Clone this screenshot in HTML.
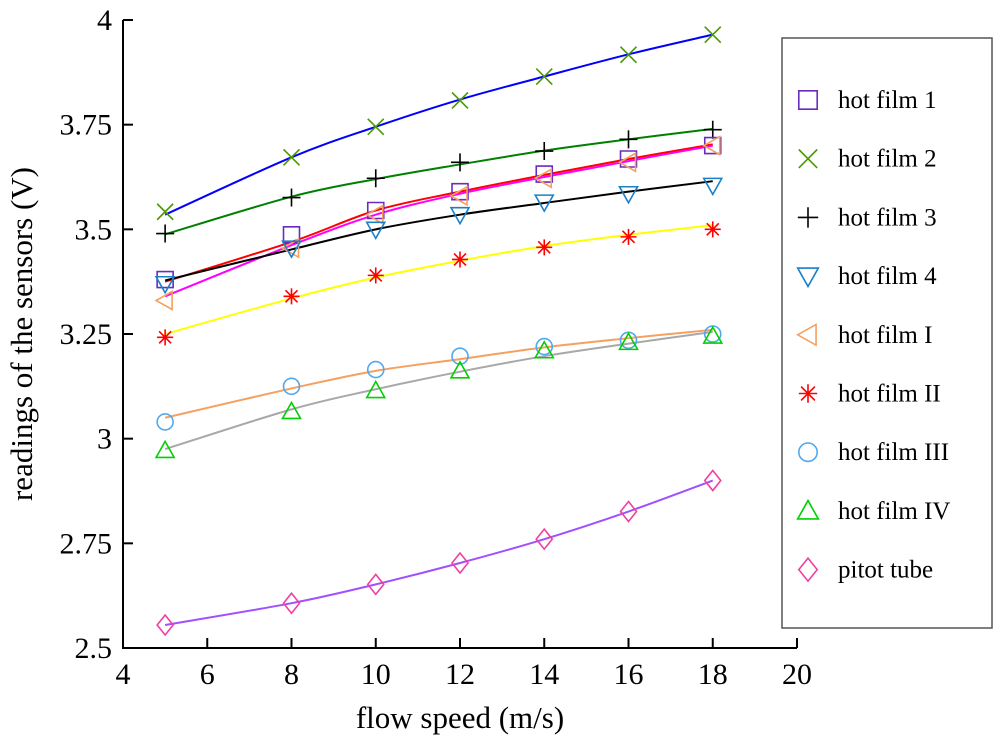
<!DOCTYPE html>
<html><head><meta charset="utf-8"><style>
body{margin:0;background:#fff}
svg text{font-family:"Liberation Serif",serif;fill:#000}
</style></head><body>
<svg id="chart" width="1000" height="742" xmlns="http://www.w3.org/2000/svg">
<g id="plot"></g>
<text x="460" y="728" font-size="31" text-anchor="middle">flow speed (m/s)</text>
<text transform="translate(32,334) rotate(-90)" font-size="31" text-anchor="middle">readings of the sensors (V)</text>
<g id="legend"></g>
</svg>
<script>
const xs = [5, 8, 10, 12, 14, 16, 18];
const xTicks = [4, 6, 8, 10, 12, 14, 16, 18, 20];
const yTicks = [2.5, 2.75, 3, 3.25, 3.5, 3.75, 4];
const yTickLabels = ["2.5", "2.75", "3", "3.25", "3.5", "3.75", "4"];
const seriesNames = ["hot film 1","hot film 2","hot film 3","hot film 4","hot film I","hot film II","hot film III","hot film IV","pitot tube"];
const hf1 = [3.38, 3.487, 3.545, 3.59, 3.632, 3.668, 3.70];
const hf2 = [3.542, 3.672, 3.745, 3.808, 3.865, 3.917, 3.965];
const hf3 = [3.49, 3.576, 3.622, 3.66, 3.687, 3.715, 3.738];
const hf4 = [3.37, 3.455, 3.50, 3.535, 3.565, 3.585, 3.605];
const hfI = [3.33, 3.455, 3.535, 3.58, 3.622, 3.66, 3.70];
const hfII = [3.242, 3.34, 3.39, 3.428, 3.457, 3.482, 3.50];
const hfIII = [3.04, 3.125, 3.165, 3.197, 3.22, 3.235, 3.25];
const hfIV = [2.972, 3.065, 3.115, 3.162, 3.21, 3.23, 3.245];
const pitot = [2.555, 2.607, 2.652, 2.703, 2.76, 2.826, 2.90];
const fit1 = [3.375, 3.47, 3.545, 3.59, 3.63, 3.668, 3.703];
const fit2 = [3.535, 3.672, 3.745, 3.81, 3.865, 3.918, 3.965];
const fit3 = [3.488, 3.578, 3.62, 3.655, 3.688, 3.715, 3.74];
const fit4 = [3.378, 3.452, 3.50, 3.535, 3.563, 3.59, 3.615];
const fitI = [3.34, 3.462, 3.535, 3.585, 3.625, 3.663, 3.70];
const fitII = [3.25, 3.335, 3.385, 3.425, 3.46, 3.487, 3.51];
const fitIII = [3.05, 3.12, 3.162, 3.19, 3.218, 3.24, 3.26];
const fitIV = [2.975, 3.07, 3.118, 3.16, 3.197, 3.227, 3.255];
const fitP = [2.555, 2.607, 2.652, 2.703, 2.76, 2.826, 2.90];

const X0=123, X1=797, Y0=648, Y1=20;
const xS = v => X0 + (v-4)/(20-4)*(X1-X0);
const yS = v => Y0 - (v-2.5)/(4-2.5)*(Y0-Y1);
const NS="http://www.w3.org/2000/svg";
const plot=document.getElementById('plot');
function mk(t,a,p){const e=document.createElementNS(NS,t);for(const k in a)e.setAttribute(k,a[k]);(p||plot).appendChild(e);return e;}

let ax=mk('path',{d:`M${X0},${Y1} V${Y0} H${X1}`,stroke:'#000','stroke-width':2,fill:'none'});


xTicks.forEach(t=>{const x=xS(t);
 const l=mk('line',{x1:x,x2:x,y1:Y0,y2:Y0-10,stroke:'#000','stroke-width':2});
 
 
 const tx=mk('text',{x:x,y:Y0+36,'font-size':30,'text-anchor':'middle'});tx.textContent=t;
 
 
});
yTicks.forEach((t,i)=>{const y=yS(t);
 const l=mk('line',{x1:X0,x2:X0+10,y1:y,y2:y,stroke:'#000','stroke-width':2});
 
 
 const tx=mk('text',{x:X0-11,y:y+10,'font-size':30,'text-anchor':'end'});tx.textContent=yTickLabels[i];
 
 
});

function curve(vals){const p=xs.map((x,i)=>[xS(x),yS(vals[i])]);let d=`M${p[0][0]},${p[0][1]}`;
 for(let i=0;i<p.length-1;i++){const a=p[i-1]||p[i],b=p[i],c=p[i+1],e=p[i+2]||c;
  d+=` C${b[0]+(c[0]-a[0])/6},${b[1]+(c[1]-a[1])/6} ${c[0]-(e[0]-b[0])/6},${c[1]-(e[1]-b[1])/6} ${c[0]},${c[1]}`;}
 return d;}
function marker(type,x,y,col,parent,k){k=k||1;let d;const s=8*k;
 switch(type){
 case 'sq':d=`M${x-s},${y-s}h${2*s}v${2*s}h${-2*s}z`;break;
 case 'x':d=`M${x-s},${y-s}L${x+s},${y+s}M${x-s},${y+s}L${x+s},${y-s}`;break;
 case 'plus':d=`M${x-s-1},${y}H${x+s+1}M${x},${y-s-1}V${y+s+1}`;break;
 case 'dn':d=`M${x-9*k},${y-7*k}H${x+9*k}L${x},${y+9*k}z`;break;
 case 'lt':d=`M${x-9*k},${y}L${x+7*k},${y-9*k}V${y+9*k}z`;break;
 case 'star':d=`M${x-s},${y}H${x+s}M${x},${y-s}V${y+s}M${x-6*k},${y-6*k}L${x+6*k},${y+6*k}M${x-6*k},${y+6*k}L${x+6*k},${y-6*k}`;break;
 case 'ci':return mk('circle',{cx:x,cy:y,r:8*k,fill:'none',stroke:col,'stroke-width':1.6},parent);
 case 'up':d=`M${x-9*k},${y+7*k}H${x+9*k}L${x},${y-9*k}z`;break;
 case 'di':d=`M${x},${y-10*k}L${x+8*k},${y}L${x},${y+10*k}L${x-8*k},${y}z`;break;}
 return mk('path',{d:d,fill:'none',stroke:col,'stroke-width':1.6},parent);}

const series=[
 {v:hf1,f:fit1,m:'sq',mc:'#6a2bc0',lc:'#ff0000'},
 {v:hf2,f:fit2,m:'x',mc:'#4a9a00',lc:'#0000ff'},
 {v:hf3,f:fit3,m:'plus',mc:'#000',lc:'#008000'},
 {v:hf4,f:fit4,m:'dn',mc:'#1a80c8',lc:'#000'},
 {v:hfI,f:fitI,m:'lt',mc:'#f5a060',lc:'#ff00ff'},
 {v:hfII,f:fitII,m:'star',mc:'#ff0000',lc:'#ffff00'},
 {v:hfIII,f:fitIII,m:'ci',mc:'#50a8f0',lc:'#f5a060'},
 {v:hfIV,f:fitIV,m:'up',mc:'#00d000',lc:'#a8a8a8'},
 {v:pitot,f:fitP,m:'di',mc:'#f040a0',lc:'#a050ff'}];
const order=[1,2,0,4,3,5,6,7,8];
order.forEach(i=>{const s=series[i];
 const c=mk('path',{d:curve(s.f),fill:'none',stroke:s.lc,'stroke-width':2});
 
 
});
order.forEach(i=>{const s=series[i];
 xs.forEach((x,j)=>{const m=marker(s.m,xS(x),yS(s.v[j]),s.mc);
  
  });
});

const lg=document.getElementById('legend');
const box=mk('rect',{x:782,y:38,width:210,height:590,fill:'#fff',stroke:'#555','stroke-width':1.5},lg);


seriesNames.forEach((n,i)=>{const y=100+i*58.7;const s=series[i];
 const g=mk('g',{},lg);
 
 
 marker(s.m,808,y,s.mc,g,1.15);
 const t=mk('text',{x:838,y:y+8,'font-size':25},g);t.textContent=n;
});
</script>
</body></html>
